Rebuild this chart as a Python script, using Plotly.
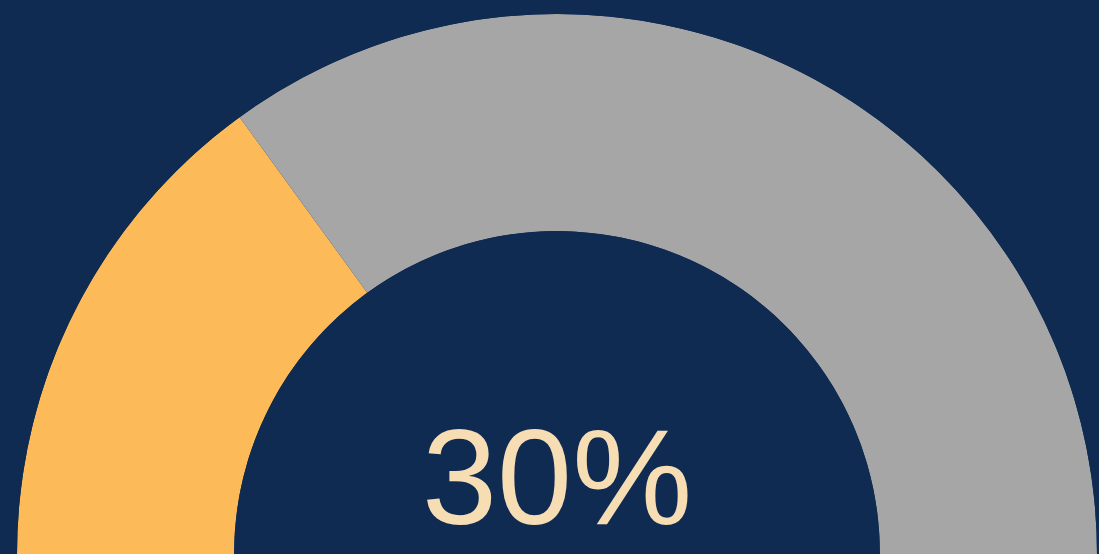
import plotly.graph_objects as go

# Data
labels = ["Completed", "Remaining"]
values = [30, 70]          # percent
colors = ["#FDBA58", "#A6A6A6"]
center_text = "30%"

BG = "#0F2B52"

# convert percentages to angular spans over a half circle (180 degrees)
total = sum(values)
widths = [v / total * 180 for v in values]
thetas = []
start = 0
for w in widths:
    thetas.append(start + w / 2)
    start += w

fig = go.Figure()
fig.add_trace(go.Barpolar(
    r=[1] * len(values),
    theta=thetas,
    width=widths,
    marker=dict(color=colors, line=dict(width=0)),
    text=labels,
    hoverinfo="text",
    showlegend=False,
))

fig.update_layout(
    width=1099, height=554,
    paper_bgcolor=BG,
    plot_bgcolor=BG,
    margin=dict(l=17, r=2, t=14, b=0),
    polar=dict(
        domain=dict(x=[0, 1], y=[0, 1]),
        sector=[0, 180],
        hole=0.598,
        bgcolor=BG,
        bargap=0,
        radialaxis=dict(visible=False, range=[0, 1]),
        angularaxis=dict(visible=False, rotation=180, direction="clockwise",
                         showgrid=False, showline=False, ticks=""),
    ),
    annotations=[dict(
        text=center_text, x=0.5, y=0.142, xref="paper", yref="paper",
        xanchor="center", yanchor="middle", showarrow=False,
        font=dict(family="Liberation Sans, Arial, sans-serif", size=135, color="#F7DDB4"),
    )],
)

fig.write_html(
    "out.html",
    config={"displayModeBar": False},
    post_script="document.body.style.margin='0';document.body.style.background='#0F2B52';",
)
